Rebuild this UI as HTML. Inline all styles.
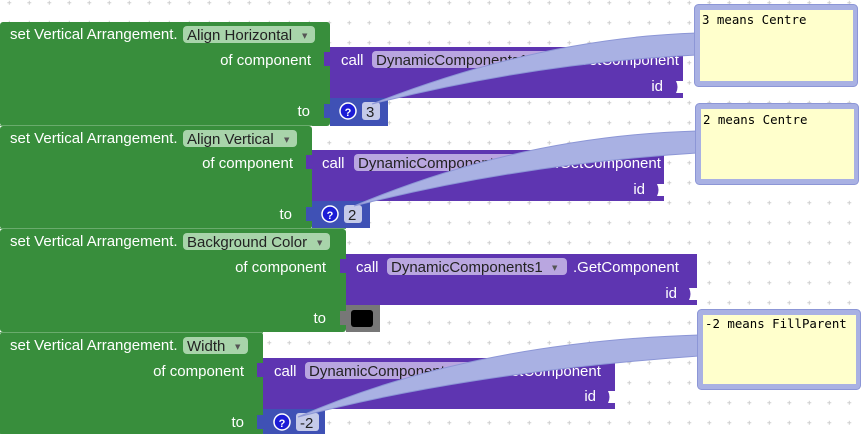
<!DOCTYPE html>
<html><head><meta charset="utf-8"><style>
html,body{margin:0;padding:0;background:#fff;}
svg{display:block;}
.t{font-family:"Liberation Sans",Arial,sans-serif;font-size:15px;fill:#fff;}
.d{font-family:"Liberation Sans",Arial,sans-serif;font-size:15px;fill:#222;}
.m{font-family:"DejaVu Sans Mono","Liberation Mono",monospace;font-size:12.4px;fill:#000;}
.arr{font-size:7px;fill:#555;font-family:"DejaVu Sans",sans-serif;}
</style></head><body>
<svg width="862" height="434" viewBox="0 0 862 434" xmlns="http://www.w3.org/2000/svg">
<defs>
<pattern id="g" x="0" y="0" width="20" height="20" patternUnits="userSpaceOnUse">
<path d="M9.3 0.7v4M7.3 2.7h4" stroke="#cfcfcf" stroke-width="1"/>
</pattern>
</defs>
<rect width="862" height="434" fill="url(#g)"/>

<!-- Block 1 -->
<rect x="0" y="22" width="330" height="104" rx="3" fill="#388e3c"/>
<text class="t" x="10" y="39">set Vertical Arrangement.</text>
<rect x="183" y="26" width="132" height="17" rx="4" fill="#a8d4aa"/>
<text class="d" x="187" y="40">Align Horizontal</text><text class="arr" x="302" y="38">▼</text>
<text class="t" x="311" y="65" text-anchor="end">of component</text>
<text class="t" x="310" y="116" text-anchor="end">to</text>
<rect x="330" y="47" width="353" height="51" fill="#5e35b1"/>
<path d="M330 52 h-6 v14 h6 z" fill="#5e35b1"/>
<text class="t" x="341" y="65">call</text>
<rect x="372" y="51" width="180" height="17" rx="4" fill="#b9a6e0"/>
<text class="d" x="376" y="65">DynamicComponents1</text><text class="arr" x="537" y="63">▼</text>
<text class="t" x="573" y="65">.GetComponent</text>
<text class="t" x="663" y="91" text-anchor="end">id</text>
<path d="M676 81 h7 v12 h-7 q3 -6 0 -12z" fill="#fff"/>
<rect x="330" y="98" width="58" height="28" fill="#3f51b5"/>
<path d="M330 104 h-6 v14 h6 z" fill="#3f51b5"/>
<circle cx="348" cy="111" r="8" fill="#1c1cd6" stroke="#fff" stroke-width="1.5"/>
<text x="348" y="116" text-anchor="middle" font-family="Liberation Sans,sans-serif" font-size="11" font-weight="bold" fill="#fff">?</text>
<rect x="362" y="102" width="18" height="18" rx="3" fill="#c5cae9"/>
<text class="d" x="366" y="117">3</text>

<!-- Block 2 -->
<rect x="0" y="126" width="312" height="103" rx="3" fill="#388e3c"/>
<line x1="0" y1="125.5" x2="312" y2="125.5" stroke="#6aab6d"/>
<text class="t" x="10" y="143">set Vertical Arrangement.</text>
<rect x="183" y="130" width="114" height="17" rx="4" fill="#a8d4aa"/>
<text class="d" x="187" y="144">Align Vertical</text><text class="arr" x="284" y="142">▼</text>
<text class="t" x="293" y="168" text-anchor="end">of component</text>
<text class="t" x="292" y="219" text-anchor="end">to</text>
<rect x="312" y="150" width="352" height="51" fill="#5e35b1"/>
<path d="M312 155 h-6 v14 h6 z" fill="#5e35b1"/>
<text class="t" x="322" y="168">call</text>
<rect x="354" y="154" width="180" height="17" rx="4" fill="#b9a6e0"/>
<text class="d" x="358" y="168">DynamicComponents1</text><text class="arr" x="519" y="166">▼</text>
<text class="t" x="555" y="168">.GetComponent</text>
<text class="t" x="645" y="194" text-anchor="end">id</text>
<path d="M657 184 h7 v12 h-7 q3 -6 0 -12z" fill="#fff"/>
<rect x="312" y="201" width="58" height="27" fill="#3f51b5"/>
<path d="M312 207 h-6 v14 h6 z" fill="#3f51b5"/>
<circle cx="330" cy="214" r="8" fill="#1c1cd6" stroke="#fff" stroke-width="1.5"/>
<text x="330" y="219" text-anchor="middle" font-family="Liberation Sans,sans-serif" font-size="11" font-weight="bold" fill="#fff">?</text>
<rect x="344" y="205" width="18" height="18" rx="3" fill="#c5cae9"/>
<text class="d" x="348" y="220">2</text>

<!-- Block 3 -->
<rect x="0" y="229" width="346" height="103" rx="3" fill="#388e3c"/>
<line x1="0" y1="228.5" x2="346" y2="228.5" stroke="#6aab6d"/>
<text class="t" x="10" y="246">set Vertical Arrangement.</text>
<rect x="183" y="233" width="147" height="17" rx="4" fill="#a8d4aa"/>
<text class="d" x="187" y="247">Background Color</text><text class="arr" x="317" y="245">▼</text>
<text class="t" x="326" y="272" text-anchor="end">of component</text>
<text class="t" x="326" y="323" text-anchor="end">to</text>
<rect x="346" y="254" width="351" height="51" fill="#5e35b1"/>
<path d="M346 259 h-6 v14 h6 z" fill="#5e35b1"/>
<text class="t" x="356" y="272">call</text>
<rect x="387" y="258" width="180" height="17" rx="4" fill="#b9a6e0"/>
<text class="d" x="391" y="272">DynamicComponents1</text><text class="arr" x="552" y="270">▼</text>
<text class="t" x="573" y="272">.GetComponent</text>
<text class="t" x="677" y="298" text-anchor="end">id</text>
<path d="M689 288 h8 v12 h-8 q3 -6 0 -12z" fill="#fff"/>
<rect x="346" y="305" width="34" height="27" fill="#777"/>
<path d="M346 311 h-6 v14 h6 z" fill="#777"/>
<rect x="351" y="310" width="22" height="17" rx="3" fill="#000"/>

<!-- Block 4 -->
<rect x="0" y="332" width="263" height="104" rx="3" fill="#388e3c"/>
<line x1="0" y1="332.5" x2="263" y2="332.5" stroke="#6aab6d"/>
<text class="t" x="10" y="350">set Vertical Arrangement.</text>
<rect x="183" y="337" width="65" height="17" rx="4" fill="#a8d4aa"/>
<text class="d" x="187" y="351">Width</text><text class="arr" x="235" y="349">▼</text>
<text class="t" x="244" y="376" text-anchor="end">of component</text>
<text class="t" x="244" y="427" text-anchor="end">to</text>
<rect x="263" y="358" width="352" height="51" fill="#5e35b1"/>
<path d="M263 363 h-6 v14 h6 z" fill="#5e35b1"/>
<text class="t" x="274" y="376">call</text>
<rect x="305" y="362" width="180" height="17" rx="4" fill="#b9a6e0"/>
<text class="d" x="309" y="376">DynamicComponents1</text><text class="arr" x="470" y="374">▼</text>
<text class="t" x="495" y="376">.GetComponent</text>
<text class="t" x="596" y="401" text-anchor="end">id</text>
<path d="M608 391 h7 v12 h-7 q3 -6 0 -12z" fill="#fff"/>
<rect x="263" y="409" width="62" height="25" fill="#3f51b5"/>
<path d="M263 415 h-6 v14 h6 z" fill="#3f51b5"/>
<circle cx="282" cy="422" r="8" fill="#1c1cd6" stroke="#fff" stroke-width="1.5"/>
<text x="282" y="427" text-anchor="middle" font-family="Liberation Sans,sans-serif" font-size="11" font-weight="bold" fill="#fff">?</text>
<rect x="296" y="413" width="23" height="18" rx="3" fill="#c5cae9"/>
<text class="d" x="300" y="428">-2</text>

<!-- Comment wedges -->
<g fill="#a9b1e3" stroke="#8c96d6" stroke-width="1">
<path d="M697 33 Q540 38 372 104 Q540 62 697 55 Z"/>
<path d="M697 131 Q520 136 354 206 Q520 164 697 153 Z"/>
<path d="M699 335 Q470 342 298 417 Q470 372 699 356 Z"/>
</g>
<!-- Comment bubbles -->
<g>
<rect x="694.5" y="4.5" width="163" height="82" rx="4" fill="#a9b1e3" stroke="#8c96d6"/>
<rect x="700" y="10" width="153" height="71" fill="#ffffcc"/>
<text class="m" x="702" y="24">3 means Centre</text>
<rect x="695.5" y="103.5" width="163" height="81" rx="4" fill="#a9b1e3" stroke="#8c96d6"/>
<rect x="701" y="109" width="153" height="70" fill="#ffffcc"/>
<text class="m" x="703" y="124">2 means Centre</text>
<rect x="697.5" y="309.5" width="163" height="80" rx="4" fill="#a9b1e3" stroke="#8c96d6"/>
<rect x="703" y="315" width="153" height="69" fill="#ffffcc"/>
<text class="m" x="705" y="328">-2 means FillParent</text>
</g>
</svg>
</body></html>
